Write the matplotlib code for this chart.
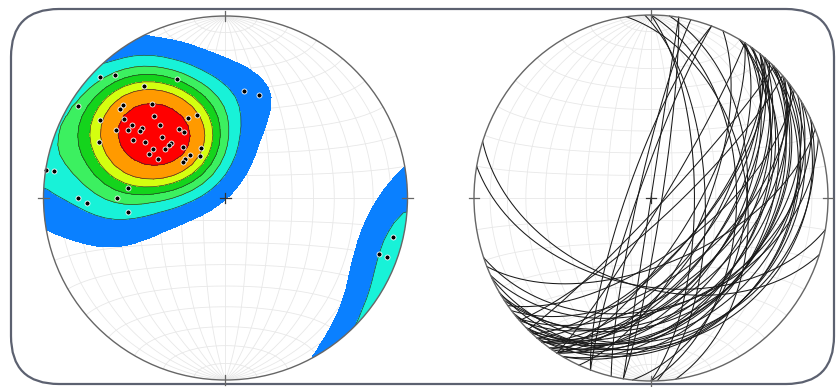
import numpy as np
import matplotlib
matplotlib.use('Agg')
import matplotlib.pyplot as plt
from matplotlib.patches import Circle, FancyBboxPatch

# poles to planes (trend, plunge in degrees)
pole_trend = [314, 318, 338, 324, 10, 18, 302, 322, 312, 310,
              341, 319, 335, 302, 308, 318, 308, 310, 305, 308,
              326, 302, 328, 314, 302, 305, 294, 315, 313, 309,
              304, 320, 334, 321, 329, 300, 300, 314, 310, 279,
              279, 276, 270, 268, 270, 262, 103, 110, 110]
pole_plunge = [5, 10, 30, 25, 40, 40, 5, 35, 25, 25,
               50, 40, 50, 20, 30, 45, 35, 40, 35, 40,
               52, 30, 55, 50, 40, 45, 25, 55, 55, 55,
               50, 60, 65, 65, 68, 50, 55, 65, 65, 0,
               5, 45, 20, 25, 40, 45, 6, 11, 6]

# density contour levels (fraction of max) and fill colours
contour_levels = [0.10, 0.22, 0.32, 0.41, 0.50, 0.60, 0.78]
contour_colors = ['#0a80ff', '#18f2d8', '#3cf060', '#14d41c',
                  '#d4ff10', '#ff9a00', '#ff0000']

grid_color = '#e8e8e8'
rim_color = '#666666'


def project(trend, plunge):
    # lower hemisphere equal-area, primitive radius 1
    t = np.radians(trend)
    p = np.radians(plunge)
    r = np.sqrt(2) * np.sin((np.pi / 2 - p) / 2)
    return r * np.sin(t), r * np.cos(t)


def to_vec(trend, plunge):
    t = np.radians(trend)
    p = np.radians(plunge)
    return np.array([np.cos(p) * np.sin(t), np.cos(p) * np.cos(t), np.sin(p)])


def draw_net(ax):
    s2 = np.sqrt(2)
    lat = np.radians(np.linspace(-90, 90, 181))
    for lon in range(-80, 90, 10):
        lo = np.radians(lon)
        k = np.sqrt(2 / (1 + np.cos(lat) * np.cos(lo)))
        ax.plot(k * np.cos(lat) * np.sin(lo) / s2, k * np.sin(lat) / s2,
                color=grid_color, lw=0.6, zorder=1)
    lon = np.radians(np.linspace(-90, 90, 181))
    for la in range(-80, 90, 10):
        a = np.radians(la)
        k = np.sqrt(2 / (1 + np.cos(a) * np.cos(lon)))
        ax.plot(k * np.cos(a) * np.sin(lon) / s2, k * np.sin(a) / s2 * np.ones_like(lon),
                color=grid_color, lw=0.6, zorder=1)


def draw_rim(ax):
    ax.add_patch(Circle((0, 0), 1, fc='none', ec=rim_color, lw=1.0,
                        zorder=6, clip_on=False))
    d = 0.03
    for sx, sy in [(0, 1), (0, -1), (1, 0), (-1, 0)]:
        if sx == 0:
            ax.plot([0, 0], [sy - d, sy + d], color=rim_color, lw=0.9, clip_on=False, zorder=6)
        else:
            ax.plot([sx - d, sx + d], [0, 0], color=rim_color, lw=0.9, clip_on=False, zorder=6)
    ax.plot([-d, d], [0, 0], color='#333333', lw=0.9, zorder=6)
    ax.plot([0, 0], [-d, d], color='#333333', lw=0.9, zorder=6)


def setup(ax):
    ax.set_xlim(-1, 1)
    ax.set_ylim(-1, 1)
    ax.axis('off')


fig = plt.figure(figsize=(8.37, 3.87), dpi=100)

# rounded frame
bg = fig.add_axes([0, 0, 1, 1])
bg.set_xlim(0, 837)
bg.set_ylim(387, 0)
bg.axis('off')
bg.add_patch(FancyBboxPatch((11, 9), 823, 375, boxstyle='round,pad=0,rounding_size=48',
                            fc='none', ec='#5c6170', lw=1.6))

# left: pole density
ax1 = fig.add_axes([43.5 / 837, 7 / 387, 364 / 837, 364 / 387])
setup(ax1)
draw_net(ax1)

n = 40
gx, gy = np.meshgrid(np.linspace(-1.03, 1.03, n), np.linspace(-1.03, 1.03, n))
gr = np.clip(np.hypot(gx, gy), 0, 1)
theta = 2 * np.arcsin(gr / np.sqrt(2))
gt = np.arctan2(gx, gy)
ge = np.sin(theta) * np.sin(gt)
gn = np.sin(theta) * np.cos(gt)
gd = np.cos(theta)
pv = to_vec(np.array(pole_trend), np.array(pole_plunge))
kappa = 14.0
dens = np.zeros_like(gx)
for i in range(pv.shape[1]):
    c = np.abs(ge * pv[0, i] + gn * pv[1, i] + gd * pv[2, i])
    dens += np.exp(kappa * (c - 1))
dens = dens / dens.max()

rim = Circle((0, 0), 1, transform=ax1.transData)
cf = ax1.contourf(gx, gy, dens, levels=contour_levels + [1.01], colors=contour_colors, zorder=2)
cf.set_clip_path(rim)
cl = ax1.contour(gx, gy, dens, levels=contour_levels[1:], colors='#2a2a2a', linewidths=0.45, zorder=3)
cl.set_clip_path(rim)

px, py = project(np.array(pole_trend), np.array(pole_plunge))
ax1.plot(px, py, 'o', ms=3.6, mfc='black', mec='white', mew=0.6, zorder=5, clip_on=False)
draw_rim(ax1)

# right: great circles of the same planes
ax2 = fig.add_axes([474 / 837, 6 / 387, 354 / 837, 366 / 387])
setup(ax2)
draw_net(ax2)
rake = np.linspace(0, np.pi, 181)
for t, p in zip(pole_trend, pole_plunge):
    dd = np.radians(t + 180)
    dip = np.radians(90 - p)
    st = dd - np.pi / 2
    sv = np.array([np.sin(st), np.cos(st), 0.0])
    dv = np.array([np.sin(dd) * np.cos(dip), np.cos(dd) * np.cos(dip), np.sin(dip)])
    v = np.outer(sv, np.cos(rake)) + np.outer(dv, np.sin(rake))
    lt = np.degrees(np.arctan2(v[0], v[1]))
    lp = np.degrees(np.arcsin(np.clip(v[2], -1, 1)))
    cx, cy = project(lt, lp)
    ax2.plot(cx, cy, color='#1a1a1a', lw=0.75, zorder=4)
draw_rim(ax2)

fig.savefig('out.png', dpi=100)
